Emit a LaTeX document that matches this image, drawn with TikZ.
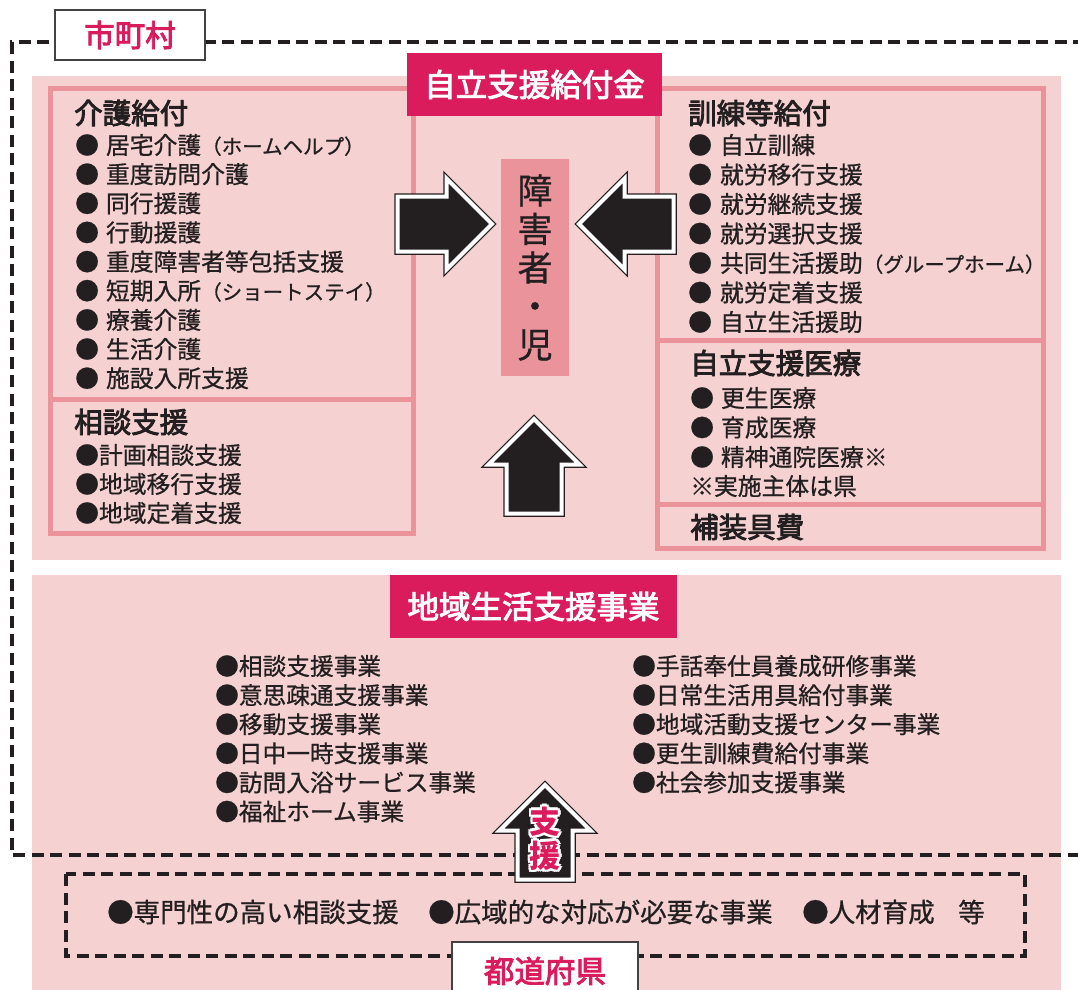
\documentclass[tikz,border=0pt]{standalone}
\usepackage{fontspec}
\setmainfont{Noto Sans CJK JP}
\newfontfamily\medfont{Noto Sans CJK JP}[FakeBold=3]
\newfontfamily\semifont{Noto Sans CJK JP}[FakeBold=0.8]
\definecolor{ink}{HTML}{231F20}
\definecolor{pinkbg}{HTML}{F5D2D1}
\definecolor{boxline}{HTML}{EA939B}
\definecolor{mag}{HTML}{DA1C5C}
\newcommand\smtxt[1]{{\fontsize{20.5}{20.5}\selectfont #1}}
\newcommand\bigarrow[3]{%
  \begin{scope}[shift={(#1,#2)},rotate=#3]
    \draw[line width=6.5pt,ink,line join=miter] (3.5,27.5) -- (52.5,27.5) -- (52.5,45.5) -- (98,0) -- (52.5,-45.5) -- (52.5,-27.5) -- (3.5,-27.5) -- cycle;
    \draw[line width=4pt,white,fill=ink,line join=miter] (3.5,27.5) -- (52.5,27.5) -- (52.5,45.5) -- (98,0) -- (52.5,-45.5) -- (52.5,-27.5) -- (3.5,-27.5) -- cycle;
  \end{scope}}
\tikzset{
  panel/.style={boxline, line width=5pt},
  dashline/.style={ink, line width=3.4pt, dash pattern=on 12pt off 6.5pt},
  titlebox/.style={fill=mag, text=white, inner sep=0pt, font=\fontsize{31.5}{31.5}\medfont},
  lbl/.style={fill=white, draw=ink!85, line width=1.3pt, text=mag, inner sep=0pt, font=\fontsize{30.5}{30.5}\medfont},
  hdr/.style={anchor=west, inner sep=0pt, text=ink, font=\fontsize{28.5}{28.5}\medfont},
  itm/.style={anchor=west, inner sep=0pt, text=ink, font=\fontsize{23.8}{23.8}\semifont},
  bitm/.style={anchor=west, inner sep=0pt, text=ink, font=\fontsize{23.7}{23.7}\semifont},
  pref/.style={anchor=west, inner sep=0pt, text=ink, font=\fontsize{26.5}{26.5}\semifont},
  shien/.style={align=center, inner sep=0pt, font=\fontsize{31}{34}\selectfont\bfseries},
}
\begin{document}
\begin{tikzpicture}[x=1pt,y=1pt]
\useasboundingbox (0,0) rectangle (1078,-989);
% backgrounds
\fill[pinkbg] (32,-76) rectangle (1061,-560);
\fill[pinkbg] (32,-575) rectangle (1061,-995);
% panels
\draw[panel] (50.5,-88.5) rectangle (413,-533);
\draw[panel] (50.5,-399) -- (413,-399);
\draw[panel] (657,-88.5) rectangle (1043,-548);
\draw[panel] (657,-340) -- (1043,-340);
\draw[panel] (657,-504) -- (1043,-504);
% dashed frames
\draw[dashline] (1085,-42) -- (12,-42) -- (12,-855) -- (1085,-855);
\draw[dashline] (66,-874) rectangle (1025,-956);
% title boxes
\node[titlebox, minimum width=255pt, minimum height=63pt] (kyufu) at (534.5,-84.5) {自立支援給付金};
\node[titlebox, minimum width=287pt, minimum height=63pt] (chiiki) at (533.5,-606.5) {地域生活支援事業};
% person box
\node[fill=boxline, minimum width=68pt, minimum height=217pt, inner sep=0pt, align=center,
      text=ink, font=\fontsize{35}{38.5}\semifont] (person) at (535,-267.5) {障\\害\\者\\・\\児};
% arrows
\bigarrow{394}{-224}{0}
\bigarrow{677}{-224}{180}
\bigarrow{534}{-517}{90}
\bigarrow{545}{-883}{90}
% left panel
\node[hdr] (kaigoH) at (74,-113) {介護給付};
\foreach \t [count=\i] in {居宅介護\smtxt{（ホームヘルプ）}, 重度訪問介護, 同行援護, 行動援護, 重度障害者等包括支援, 短期入所\smtxt{（ショートステイ）}, 療養介護, 生活介護, 施設入所支援}
  \node[itm] (kaigo\i) at (75,{-145-29.15*(\i-1)}) {●\hspace{7pt}\t};
\node[hdr] (soudanH) at (74,-422) {相談支援};
\foreach \t [count=\i] in {計画相談支援, 地域移行支援, 地域定着支援}
  \node[itm] (soudan\i) at (75,{-455-29*(\i-1)}) {●\t};
% right panel
\node[hdr] (kunrenH) at (688,-113) {訓練等給付};
\foreach \t [count=\i] in {自立訓練, 就労移行支援, 就労継続支援, 就労選択支援, 共同生活援助\smtxt{（グループホーム）}, 就労定着支援, 自立生活援助}
  \node[itm] (kunren\i) at (688,{-145-29.5*(\i-1)}) {●\hspace{8pt}\t};
\node[hdr] (iryoH) at (690,-363) {自立支援医療};
\foreach \t [count=\i] in {更生医療, 育成医療, 精神通院医療※}
  \node[itm] (iryo\i) at (690,{-398-29.5*(\i-1)}) {●\hspace{7pt}\t};
\node[itm] (iryoNote) at (690,-486) {※実施主体は県};
\node[hdr] (hosougu) at (690,-527) {補装具費};
% community support lists
\foreach \t [count=\i] in {相談支援事業, 意思疎通支援事業, 移動支援事業, 日中一時支援事業, 訪問入浴サービス事業, 福祉ホーム事業}
  \node[bitm] (cl\i) at (215,{-666-29.1*(\i-1)}) {●\t};
\foreach \t [count=\i] in {手話奉仕員養成研修事業, 日常生活用具給付事業, 地域活動支援センター事業, 更生訓練費給付事業, 社会参加支援事業}
  \node[bitm] (cr\i) at (632,{-666-29.1*(\i-1)}) {●\t};
% prefecture line
\node[pref] (p1) at (107,-912) {●専門性の高い相談支援};
\node[pref] (p2) at (428,-912) {●広域的な対応が必要な事業};
\node[pref] (p3) at (802,-912) {●人材育成};
\node[pref] (p4) at (958,-912) {等};
% shien text with halo
\foreach \dx/\dy [count=\k] in {2.5/0, -2.5/0, 0/2.5, 0/-2.5, 1.8/1.8, -1.8/1.8, 1.8/-1.8, -1.8/-1.8}
  \node[shien, text=white, xshift=\dx pt, yshift=\dy pt] (halo\k) at (545,-838.5) {支\\援};
\node[shien, text=mag] (shientxt) at (545,-838.5) {支\\援};
% labels
\node[lbl, minimum width=150pt, minimum height=50pt] (city) at (130,-35) {市町村};
\node[lbl, minimum width=186pt, minimum height=58pt] (prefl) at (545,-971) {都道府県};
\end{tikzpicture}
\end{document}
